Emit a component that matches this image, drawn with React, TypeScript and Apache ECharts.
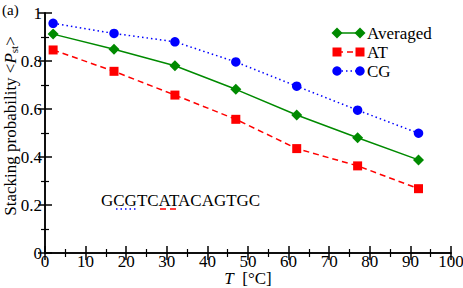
import React, { useEffect, useRef } from "react";
import * as echarts from "echarts";

const temps = [2, 17, 32, 47, 62, 77, 92];
const averaged = [0.912, 0.849, 0.78, 0.682, 0.575, 0.48, 0.388];
const at = [0.846, 0.757, 0.658, 0.557, 0.435, 0.363, 0.268];
const cg = [0.957, 0.915, 0.88, 0.796, 0.695, 0.595, 0.499];
const seriesNames = ["Averaged", "AT", "CG"];
const sequence = "GCGTCATACAGTGC";

const FONT = "Liberation Serif";
const FS = 17;
const GREEN = "#008a00";
const RED = "#ff0000";
const BLUE = "#0000ff";

export default function App() {
  const ref = useRef<HTMLDivElement>(null);
  useEffect(() => {
    const chart = echarts.init(ref.current!, null, { renderer: "svg" });
    const pairs = (ys: number[]) => temps.map((t, i) => [t, ys[i]]);
    const baseAxis = {
      axisLine: { show: true, lineStyle: { color: "#000", width: 1.5 } },
      axisTick: { show: true, inside: true, length: 7, lineStyle: { color: "#000", width: 1.5 } },
      minorTick: { show: true, splitNumber: 2, length: 4, lineStyle: { color: "#000", width: 1.2 } },
      splitLine: { show: false },
    };
    const legendX1 = 337, legendX2 = 360, legendTextX = 367;
    const legendRows = [33, 52, 71];
    const styles = [
      { color: GREEN, dash: "solid" as any, shape: "diamond" },
      { color: RED, dash: [6, 4] as any, shape: "rect" },
      { color: BLUE, dash: [1.5, 3] as any, shape: "circle" },
    ];
    const marker = (shape: string, x: number, y: number, color: string): any => {
      if (shape === "diamond")
        return { type: "polygon", shape: { points: [[x, y - 5.5], [x + 5.5, y], [x, y + 5.5], [x - 5.5, y]] }, style: { fill: color } };
      if (shape === "rect")
        return { type: "rect", shape: { x: x - 4.5, y: y - 4.5, width: 9, height: 9 }, style: { fill: color } };
      return { type: "circle", shape: { cx: x, cy: y, r: 4.7 }, style: { fill: color } };
    };
    const legendGraphics: any[] = [];
    seriesNames.forEach((name, i) => {
      const y = legendRows[i];
      const s = styles[i];
      legendGraphics.push({ type: "line", shape: { x1: legendX1, y1: y, x2: legendX2, y2: y }, style: { stroke: s.color, lineWidth: 1.5, lineDash: s.dash } });
      legendGraphics.push(marker(s.shape, legendX1, y, s.color));
      legendGraphics.push(marker(s.shape, legendX2, y, s.color));
      legendGraphics.push({ type: "text", x: legendTextX, y, style: { text: name, fontFamily: FONT, fontSize: FS, fill: "#000", verticalAlign: "middle" } });
    });

    chart.setOption({
      animation: false,
      backgroundColor: "#fff",
      grid: { left: 45, top: 13, width: 406, height: 240, containLabel: false, outerBoundsMode: "none" },
      xAxis: [
        {
          ...baseAxis,
          type: "value", min: 0, max: 100, interval: 10, position: "bottom",
          axisLabel: { color: "#000", fontFamily: FONT, fontSize: FS, margin: 1, lineHeight: 15 },
        },
        { ...baseAxis, type: "value", min: 0, max: 100, interval: 10, position: "top", axisLabel: { show: false } },
      ],
      yAxis: [
        {
          ...baseAxis,
          type: "value", min: 0, max: 1, interval: 0.2, position: "left",
          axisLabel: {
            color: "#000", fontFamily: FONT, fontSize: FS, margin: 3,
            formatter: (v: number) => (v === 0 ? "0" : v === 1 ? "1" : v.toFixed(1)),
          },
        },
        { ...baseAxis, type: "value", min: 0, max: 1, interval: 0.2, position: "right", axisLabel: { show: false } },
      ],
      series: [
        {
          name: seriesNames[0], type: "line", data: pairs(averaged),
          symbol: "diamond", symbolSize: 11,
          itemStyle: { color: GREEN }, lineStyle: { color: GREEN, width: 1.5 },
        },
        {
          name: seriesNames[1], type: "line", data: pairs(at),
          symbol: "rect", symbolSize: 9,
          itemStyle: { color: RED }, lineStyle: { color: RED, width: 1.5, type: [6, 4] },
        },
        {
          name: seriesNames[2], type: "line", data: pairs(cg),
          symbol: "circle", symbolSize: 9.5,
          itemStyle: { color: BLUE }, lineStyle: { color: BLUE, width: 1.5, type: [1.5, 3] },
        },
      ],
      graphic: [
        { type: "text", x: 2, y: 2, style: { text: "(a)", fontFamily: FONT, fontSize: 15, fill: "#000" } },
        {
          type: "text", x: 10, y: 126, rotation: Math.PI / 2,
          style: {
            text: "{n|Stacking probability <}{i|P}{s|st}{n|>}",
            align: "center", verticalAlign: "middle",
            rich: {
              n: { fontFamily: FONT, fontSize: FS, fill: "#000", verticalAlign: "middle" },
              i: { fontFamily: FONT, fontSize: FS, fontStyle: "italic", fill: "#000", verticalAlign: "middle" },
              s: { fontFamily: FONT, fontSize: 11, fill: "#000", verticalAlign: "bottom", padding: [8, 0, 0, 0] },
            },
          },
        },
        {
          type: "text", x: 248, y: 278.5,
          style: {
            text: "{i|T}{n|  [°C]}",
            align: "center", verticalAlign: "middle",
            rich: {
              i: { fontFamily: FONT, fontSize: FS, fontStyle: "italic", fill: "#000", lineHeight: 16 },
              n: { fontFamily: FONT, fontSize: FS, fill: "#000", lineHeight: 16 },
            },
          },
        },
        { type: "text", x: 101, y: 200, style: { text: sequence, fontFamily: FONT, fontSize: FS, fill: "#000", verticalAlign: "middle" } },
        { type: "line", shape: { x1: 116, y1: 209, x2: 137, y2: 209 }, style: { stroke: BLUE, lineWidth: 1.5, lineDash: [1.5, 3] } },
        { type: "line", shape: { x1: 160, y1: 209, x2: 178, y2: 209 }, style: { stroke: RED, lineWidth: 1.5, lineDash: [6, 4] } },
        ...legendGraphics,
      ],
    });
    return () => chart.dispose();
  }, []);
  return <div ref={ref} style={{ position: "fixed", left: 0, top: 0, width: 463, height: 288 }} />;
}
